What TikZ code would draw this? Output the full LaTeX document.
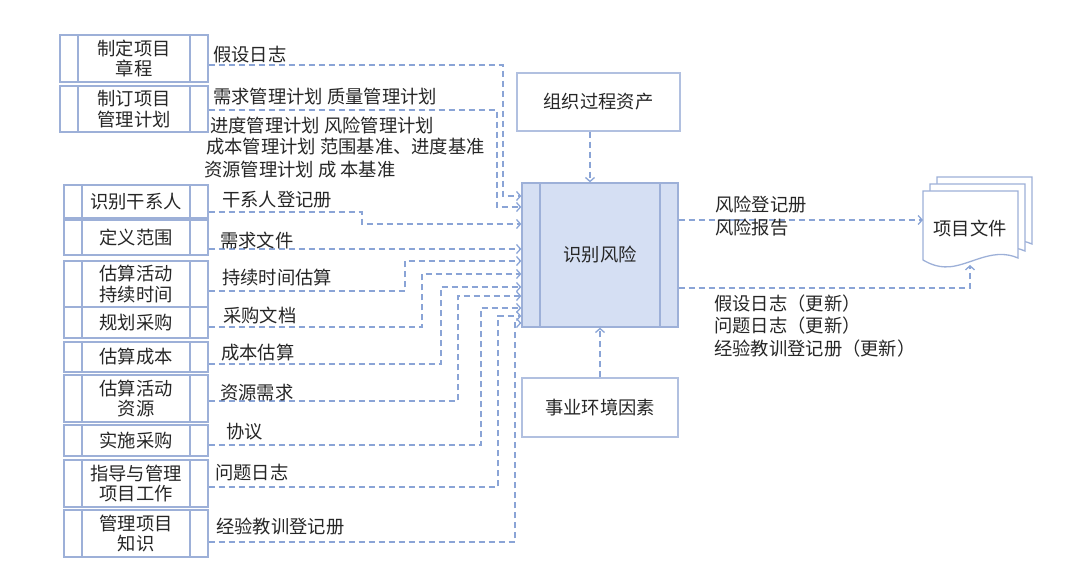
\documentclass[tikz,border=0pt]{standalone}
\usepackage{fontspec}
\setmainfont{Noto Sans CJK SC}
\usetikzlibrary{arrows.meta}
\definecolor{bd}{HTML}{9DB0D8}
\definecolor{ln}{HTML}{8AA4D6}
\definecolor{cf}{HTML}{D5DFF3}
\begin{document}
\begin{tikzpicture}[x=1pt,y=-1pt,
  font=\fontsize{18.3}{20.5}\selectfont, text=black!85,
  pbox/.style={draw=bd, line width=1.3pt, inner sep=0pt, align=center,
    path picture={\draw[bd,line width=1.3pt] ([xshift=18pt]path picture bounding box.north west) -- ([xshift=18pt]path picture bounding box.south west)
      ([xshift=-18pt]path picture bounding box.north east) -- ([xshift=-18pt]path picture bounding box.south east);}},
  box/.style={draw=bd!80, line width=1.3pt, align=center},
  con/.style={ln, line width=1.3pt, dash pattern=on 6pt off 4pt},
  arr/.style={con, -{Straight Barb[length=4pt,width=9pt]}},
  lbl/.style={anchor=west, inner sep=0pt, align=left}]
\useasboundingbox (0,0) rectangle (1079,585);
% left boxes
\node[pbox, minimum width=148pt, minimum height=47pt] (b1) at (134,58.5) {制定项目\\章程};
\node[pbox, minimum width=148pt, minimum height=46pt] (b2) at (134,109) {制订项目\\管理计划};
\node[pbox, minimum width=144pt, minimum height=33pt] (b3) at (136,201.5) {识别干系人};
\node[pbox, minimum width=144pt, minimum height=35pt] (b4) at (136,237.5) {定义范围};
\node[pbox, minimum width=144pt, minimum height=46pt] (b5) at (136,284) {估算活动\\持续时间};
\node[pbox, minimum width=144pt, minimum height=31pt] (b6) at (136,322.5) {规划采购};
\node[pbox, minimum width=144pt, minimum height=30pt] (b7) at (136,357) {估算成本};
\node[pbox, minimum width=144pt, minimum height=47pt] (b8) at (136,398.5) {估算活动\\资源};
\node[pbox, minimum width=144pt, minimum height=31pt] (b9) at (136,440.5) {实施采购};
\node[pbox, minimum width=144pt, minimum height=47pt] (b10) at (136,483.5) {指导与管理\\项目工作};
\node[pbox, minimum width=144pt, minimum height=47pt] (b11) at (136,533.5) {管理项目\\知识};
% center
\node[pbox, fill=cf, minimum width=156pt, minimum height=144pt] (risk) at (600,255) {识别风险};
\node[box, minimum width=163pt, minimum height=58pt] (opa) at (598.5,102) {组织过程资产};
\node[box, minimum width=156pt, minimum height=59pt] (eef) at (600,407.5) {事业环境因素};
\draw[arr] (opa.south -| 590,0) -- (risk.north -| 590,0);
\draw[arr] (eef.north) -- (risk.south);
% document stack
\foreach \d in {14,7}{
  \draw[bd, line width=1.3pt, fill=white] (923+\d,191-\d) -- (1018+\d,191-\d) -- (1018+\d,258-\d) .. controls (995+\d,248-\d) and (975+\d,262-\d) .. (955+\d,266-\d) .. controls (940+\d,269-\d) and (930+\d,264-\d) .. (923+\d,260-\d) -- cycle;}
\draw[bd, line width=1.3pt, fill=white] (923,191) -- (1018,191) -- (1018,258) .. controls (995,248) and (975,262) .. (955,266) .. controls (940,269) and (930,264) .. (923,260) -- cycle;
\node (doc) at (970,228) {项目文件};
\coordinate (docw) at (923,220);
\coordinate (docb) at (970,265);
% inputs
\draw[arr] (b1.east |- 0,65) -- (503,65) -- (503,196) -- (risk.west |- 0,196);
\draw[arr] (b2.east |- 0,110) -- (497,110) -- (497,207) -- (risk.west |- 0,207);
\draw[arr] (b3.east |- 0,212) -- (362,212) -- (362,224) -- (risk.west |- 0,224);
\draw[arr] (b4.east |- 0,249) -- (risk.west |- 0,249);
\draw[arr] (b5.east |- 0,291) -- (405,291) -- (405,261) -- (risk.west |- 0,261);
\draw[arr] (b6.east |- 0,327) -- (422,327) -- (422,274) -- (risk.west |- 0,274);
\draw[arr] (b7.east |- 0,364) -- (441,364) -- (441,287) -- (risk.west |- 0,287);
\draw[arr] (b8.east |- 0,401) -- (458,401) -- (458,296) -- (risk.west |- 0,296);
\draw[arr] (b9.east |- 0,445) -- (481,445) -- (481,308) -- (risk.west |- 0,308);
\draw[arr] (b10.east |- 0,487) -- (498,487) -- (498,316) -- (risk.west |- 0,316);
\draw[arr] (b11.east |- 0,542) -- (515,542) -- (515,323) -- (risk.west |- 0,323);
% outputs
\draw[arr] (risk.east |- 0,220) -- (docw);
\draw[arr] (risk.east |- 0,288) -- (970,288) -- (docb);
% labels
\node[lbl] at (213,55) {假设日志};
\node[lbl] at (213,97) {需求管理计划 质量管理计划};
\node[lbl] at (210,125) {进度管理计划 风险管理计划};
\node[lbl] at (206,147) {成本管理计划 范围基准、进度基准};
\node[lbl] at (204,170) {资源管理计划 成 本基准};
\node[lbl] at (222,200) {干系人登记册};
\node[lbl] at (220,241) {需求文件};
\node[lbl] at (222,278) {持续时间估算};
\node[lbl] at (223,315) {采购文档};
\node[lbl] at (221,353) {成本估算};
\node[lbl] at (220,393) {资源需求};
\node[lbl] at (226,432) {协议};
\node[lbl] at (215,473) {问题日志};
\node[lbl] at (216,527) {经验教训登记册};
\node[lbl] at (715,205) {风险登记册};
\node[lbl] at (715,228) {风险报告};
\node[lbl] at (714,304) {假设日志（更新）};
\node[lbl] at (714,326) {问题日志（更新）};
\node[lbl] at (714,349) {经验教训登记册（更新）};
\end{tikzpicture}
\end{document}
